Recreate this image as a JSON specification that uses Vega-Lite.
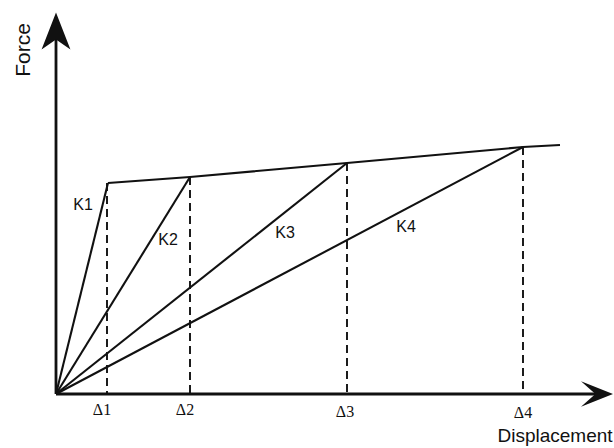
{
  "$schema": "https://vega.github.io/schema/vega-lite/v6.json",
  "width": 614,
  "height": 448,
  "autosize": {"type": "fit", "contains": "padding"},
  "padding": 0,
  "background": "white",
  "config": {"view": {"stroke": null}},
  "datasets": {
    "curves": [
      {"series": "K1", "i": 0, "disp": 0, "force": 0},
      {"series": "K1", "i": 1, "disp": 52, "force": 211},
      {"series": "K2", "i": 0, "disp": 0, "force": 0},
      {"series": "K2", "i": 1, "disp": 134, "force": 217},
      {"series": "K3", "i": 0, "disp": 0, "force": 0},
      {"series": "K3", "i": 1, "disp": 291, "force": 231},
      {"series": "K4", "i": 0, "disp": 0, "force": 0},
      {"series": "K4", "i": 1, "disp": 467, "force": 247},
      {"series": "envelope", "i": 0, "disp": 52, "force": 211},
      {"series": "envelope", "i": 1, "disp": 134, "force": 217},
      {"series": "envelope", "i": 2, "disp": 291, "force": 231},
      {"series": "envelope", "i": 3, "disp": 467, "force": 247},
      {"series": "envelope", "i": 4, "disp": 504, "force": 249}
    ],
    "deltas": [
      {"delta": "Δ1", "disp": 51, "force": 211, "lx": 46, "ly": -16},
      {"delta": "Δ2", "disp": 134, "force": 217, "lx": 129, "ly": -16},
      {"delta": "Δ3", "disp": 291, "force": 231, "lx": 289, "ly": -18},
      {"delta": "Δ4", "disp": 467, "force": 247, "lx": 467, "ly": -19}
    ],
    "klabels": [
      {"label": "K1", "x": 27, "y": 189},
      {"label": "K2", "x": 112, "y": 154},
      {"label": "K3", "x": 229, "y": 161},
      {"label": "K4", "x": 350, "y": 167}
    ],
    "axes": [
      {"axis": "x", "x": 0, "y": 0, "x2": 545, "y2": 0},
      {"axis": "y", "x": 0, "y": 0, "x2": 0, "y2": 360}
    ]
  },
  "layer": [
    {
      "data": {"name": "axes"},
      "mark": {"type": "rule", "color": "#111", "strokeWidth": 2.8},
      "encoding": {
        "x": {"field": "x", "type": "quantitative", "scale": {"domain": [-56, 558], "nice": false, "zero": false}, "axis": null},
        "y": {"field": "y", "type": "quantitative", "scale": {"domain": [-54, 394], "nice": false, "zero": false}, "axis": null},
        "x2": {"field": "x2"},
        "y2": {"field": "y2"}
      }
    },
    {
      "data": {"values": [{"x": 0, "y": 363}]},
      "mark": {"type": "point", "shape": "M0,-1L0.78,1L0,0.46L-0.78,1Z", "size": 1369, "filled": true, "color": "#111", "opacity": 1},
      "encoding": {
        "x": {"field": "x", "type": "quantitative"},
        "y": {"field": "y", "type": "quantitative"}
      }
    },
    {
      "data": {"values": [{"x": 541, "y": 0}]},
      "mark": {"type": "point", "shape": "M1,0L-1,-0.8L-0.1,0L-1,0.8Z", "size": 1024, "filled": true, "color": "#111", "opacity": 1},
      "encoding": {
        "x": {"field": "x", "type": "quantitative"},
        "y": {"field": "y", "type": "quantitative"}
      }
    },
    {
      "data": {"name": "deltas"},
      "mark": {"type": "rule", "color": "#111", "strokeWidth": 1.9, "strokeDash": [8, 5]},
      "encoding": {
        "x": {"field": "disp", "type": "quantitative"},
        "y": {"field": "force", "type": "quantitative"},
        "y2": {"datum": 0}
      }
    },
    {
      "data": {"name": "curves"},
      "mark": {"type": "line", "color": "#111", "strokeWidth": 2.1},
      "encoding": {
        "x": {"field": "disp", "type": "quantitative"},
        "y": {"field": "force", "type": "quantitative"},
        "detail": {"field": "series", "type": "nominal"},
        "order": {"field": "i", "type": "quantitative"}
      }
    },
    {
      "data": {"name": "klabels"},
      "mark": {"type": "text", "font": "Liberation Sans", "fontSize": 16, "color": "#111", "align": "center", "baseline": "middle"},
      "encoding": {
        "x": {"field": "x", "type": "quantitative"},
        "y": {"field": "y", "type": "quantitative"},
        "text": {"field": "label", "type": "nominal"}
      }
    },
    {
      "data": {"name": "deltas"},
      "mark": {"type": "text", "font": "Liberation Serif", "fontSize": 16, "color": "#111", "align": "center", "baseline": "middle"},
      "encoding": {
        "x": {"field": "lx", "type": "quantitative"},
        "y": {"field": "ly", "type": "quantitative"},
        "text": {"field": "delta", "type": "nominal"}
      }
    },
    {
      "data": {"values": [{"t": "Displacement", "x": 499, "y": -42}]},
      "mark": {"type": "text", "font": "Liberation Sans", "fontSize": 19, "color": "#111", "align": "center", "baseline": "middle"},
      "encoding": {
        "x": {"field": "x", "type": "quantitative"},
        "y": {"field": "y", "type": "quantitative"},
        "text": {"field": "t", "type": "nominal"}
      }
    },
    {
      "data": {"values": [{"t": "Force", "x": -32, "y": 344}]},
      "mark": {"type": "text", "font": "Liberation Sans", "fontSize": 21, "angle": 270, "color": "#111", "align": "center", "baseline": "middle"},
      "encoding": {
        "x": {"field": "x", "type": "quantitative"},
        "y": {"field": "y", "type": "quantitative"},
        "text": {"field": "t", "type": "nominal"}
      }
    }
  ]
}
